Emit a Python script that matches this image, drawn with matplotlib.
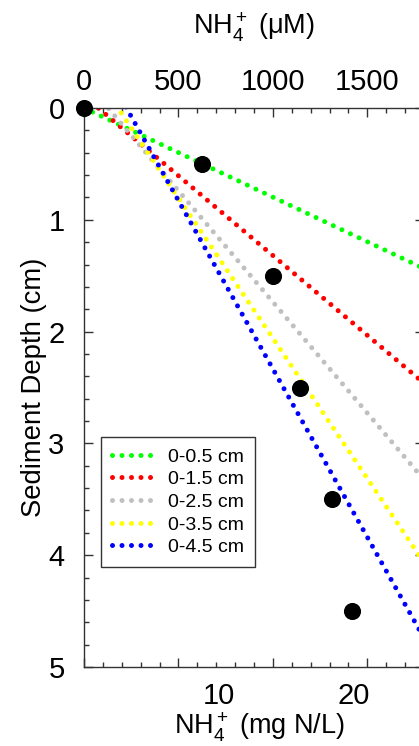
import numpy as np
import matplotlib
matplotlib.use("Agg")
import matplotlib.pyplot as plt

plt.rcParams["font.family"] = ["Liberation Sans", "DejaVu Sans"]
plt.rcParams["mathtext.fontset"] = "custom"
plt.rcParams["mathtext.rm"] = "Liberation Sans"
plt.rcParams["mathtext.it"] = "Liberation Sans:italic"

# porewater NH4+ profile (uM) vs sediment depth (cm)
depth = np.array([0.0, 0.5, 1.5, 2.5, 3.5, 4.5])
nh4_um = np.array([0.0, 627.0, 1000.0, 1146.0, 1311.0, 1417.0])

# regressions of depth on NH4+ over increasing depth intervals
fit_bottom = [0.5, 1.5, 2.5, 3.5, 4.5]
fit_labels = ["0-0.5 cm", "0-1.5 cm", "0-2.5 cm", "0-3.5 cm", "0-4.5 cm"]
fit_colors = ["#00ff00", "#ff0000", "#c0c0c0", "#ffff00", "#0000ff"]

UM_PER_MG = 1000.0 / 14.0067   # uM per mg N/L

W, H = 419, 746
fig = plt.figure(figsize=(W/100, H/100), dpi=100)
ax = fig.add_axes([84/W, 1-667/H, 340/W, 559/H])

cc = np.linspace(0, 1800, 400)
for zb, lab, col in zip(fit_bottom, fit_labels, fit_colors):
    m = depth <= zb + 1e-9
    d, c = np.polyfit(nh4_um[m], depth[m], 1)
    ax.plot(cc, c + d*cc, color=col, lw=3.6, linestyle=(0, (0.001, 1.9)),
            dash_capstyle="round", label=lab, zorder=2)

ax.plot(nh4_um, depth, "o", color="black", ms=11.3, zorder=5, clip_on=False)

ax.set_xlim(0, 1800)
ax.set_ylim(5, 0)
ax.set_xticks([0, 500, 1000, 1500])
ax.set_xticks(np.arange(0, 1801, 100), minor=True)
ax.set_yticks(np.arange(0, 6, 1))
ax.set_yticks(np.arange(0, 5.01, 0.2), minor=True)
ax.xaxis.tick_top()
ax.tick_params(which="both", direction="in", top=True, bottom=True,
               left=True, right=True, labelbottom=False, labeltop=True,
               labelsize=21, width=1, color="#333333")
ax.tick_params(which="major", length=6.5)
ax.tick_params(which="minor", length=3.6)
ax.tick_params(axis="x", pad=9)
ax.tick_params(axis="y", pad=14)
for s in ax.spines.values():
    s.set_linewidth(1)
    s.set_color("#333333")

ax.set_ylabel("Sediment Depth (cm)", fontsize=19.8, labelpad=1)

sec = ax.secondary_xaxis("bottom", functions=(lambda x: x / UM_PER_MG,
                                              lambda x: x * UM_PER_MG))
sec.set_xticks([10, 20])
sec.tick_params(length=0, labelsize=21, pad=11)
sec.spines["bottom"].set_visible(False)

# axis titles placed by baseline
fig.text(254/W, 1-34/H, "NH$_4^+$ (μM)", fontsize=19.5, ha="center", va="baseline")
fig.text(259/W, 1-735/H, "NH$_4^+$ (mg N/L)", fontsize=19.5, ha="center", va="baseline")

leg = ax.legend(loc="upper left", bbox_to_anchor=(0.05, 0.411), fontsize=14,
                frameon=True, fancybox=False, edgecolor="black",
                handlelength=2.3, handletextpad=0.6, labelspacing=0.26,
                borderpad=0.55, borderaxespad=0)
leg.get_frame().set_linewidth(1)

fig.savefig("out.png", dpi=100)
